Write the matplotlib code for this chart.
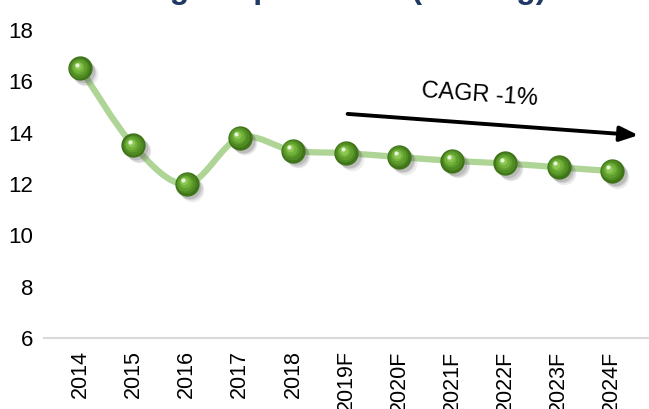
import numpy as np
import matplotlib
matplotlib.use('Agg')
import matplotlib.pyplot as plt
from matplotlib.path import Path
from matplotlib.patches import PathPatch
from matplotlib.transforms import offset_copy

plt.rcParams['font.family'] = ['Liberation Sans', 'DejaVu Sans']

years = ['2014', '2015', '2016', '2017', '2018', '2019F',
         '2020F', '2021F', '2022F', '2023F', '2024F']
price = [16.5, 13.5, 12.0, 13.8, 13.3, 13.2, 13.05, 12.9, 12.8, 12.65, 12.5]
y_ticks = [6, 8, 10, 12, 14, 16, 18]
title = 'Average Import Price (USD/kg)'
cagr_label = 'CAGR -1%'

fig = plt.figure(figsize=(6.49, 4.09), dpi=100)
ax = fig.add_axes([0.068, 0.1736, 0.932, 0.7531])

x = np.arange(len(years))
y = np.array(price)

# smooth connector: cubic bezier segments through each point (catmull-rom tangents)
verts = [(x[0], y[0])]
codes = [Path.MOVETO]
for i in range(len(x) - 1):
    p0 = np.array([x[max(i - 1, 0)], y[max(i - 1, 0)]])
    p1 = np.array([x[i], y[i]])
    p2 = np.array([x[i + 1], y[i + 1]])
    p3 = np.array([x[min(i + 2, len(x) - 1)], y[min(i + 2, len(x) - 1)]])
    c1 = p1 + (p2 - p0) / 6
    c2 = p2 - (p3 - p1) / 6
    verts += [tuple(c1), tuple(c2), tuple(p2)]
    codes += [Path.CURVE4] * 3
ax.add_patch(PathPatch(Path(verts, codes), facecolor='none',
                       edgecolor='#afd596', lw=4.5, capstyle='round', zorder=2))

# shaded spheres: soft shadow, dark body, lighter core, highlight
for dx, dy, a in [(4, -4, 0.10), (3, -3, 0.15), (2, -2, 0.2)]:
    tr = offset_copy(ax.transData, fig=fig, x=dx, y=dy, units='points')
    ax.plot(x, y, 'o', ms=17, color='#555555', alpha=a, mec='none',
            transform=tr, zorder=3)
ax.plot(x, y, 'o', ms=17.5, color='#3f7418', mec='none', zorder=4)
layers = [(14.5, '#4f8a22', -0.6, 0.6), (11.5, '#5f9e2c', -1.0, 1.0),
          (8.5, '#72b23a', -1.4, 1.4), (5.5, '#8cc653', -1.8, 1.8)]
for ms, c, dx, dy in layers:
    tr = offset_copy(ax.transData, fig=fig, x=dx, y=dy, units='points')
    ax.plot(x, y, 'o', ms=ms, color=c, mec='none', transform=tr, zorder=5)
tr = offset_copy(ax.transData, fig=fig, x=-2.5, y=2.8, units='points')
ax.plot(x, y, 'o', ms=3, color='#e6f5d8', mec='none', transform=tr, zorder=6)

# trend arrow with CAGR label
ax.annotate('', xy=(10.5, 13.9), xytext=(5.03, 14.73),
            arrowprops=dict(arrowstyle='-|>,head_length=1.1,head_width=0.45',
                            color='black', lw=2.8, shrinkA=0, shrinkB=0))
ax.text(7.52, 15.45, cagr_label, fontsize=17, rotation=-4,
        ha='center', va='center', rotation_mode='anchor')

ax.set_xlim(-0.68, 10.7)
ax.set_ylim(6, 18)
ax.set_yticks(y_ticks)
ax.set_yticklabels([str(t) for t in y_ticks], fontsize=16)
ax.set_xticks(x)
ax.set_xticklabels(years, rotation=90, fontsize=15.5)
ax.tick_params(length=0)
ax.tick_params(axis='x', pad=9)
ax.tick_params(axis='y', pad=8)
for s in ['top', 'right', 'left']:
    ax.spines[s].set_visible(False)
ax.spines['bottom'].set_color('#d9d9d9')
ax.spines['bottom'].set_linewidth(1.5)

fig.text(0.484, 1.006, title, fontsize=23, fontweight='bold', color='#1f3864',
         ha='center', va='baseline')

fig.savefig('out.png', dpi=100)
